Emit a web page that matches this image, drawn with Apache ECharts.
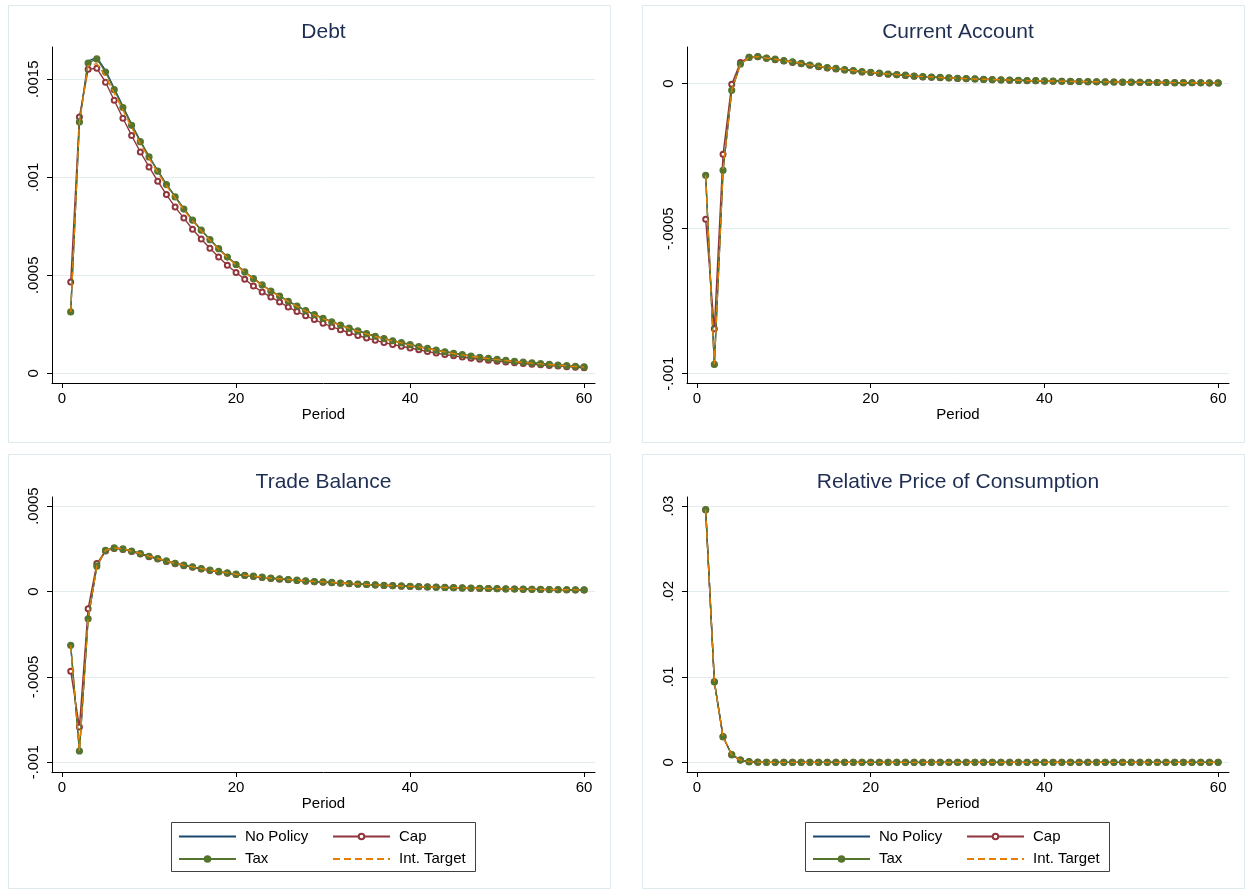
<!DOCTYPE html>
<html>
<head>
<meta charset="utf-8">
<title>Impulse responses</title>
<script src="https://cdn.jsdelivr.net/npm/echarts@6/dist/echarts.min.js"></script>
<style>
  html, body { margin: 0; padding: 0; background: #fff; }
  #chart { width: 1249px; height: 891px; }
</style>
</head>
<body>
<div id="chart"></div>
<script>
// periods 1..60
const period = [1, 2, 3, 4, 5, 6, 7, 8, 9, 10, 11, 12, 13, 14, 15, 16, 17, 18, 19, 20,
  21, 22, 23, 24, 25, 26, 27, 28, 29, 30, 31, 32, 33, 34, 35, 36, 37, 38, 39, 40,
  41, 42, 43, 44, 45, 46, 47, 48, 49, 50, 51, 52, 53, 54, 55, 56, 57, 58, 59, 60]

// Debt
const debtTax = [0.000313, 0.001282, 0.001583, 0.001604, 0.001537, 0.001447, 0.001356, 0.001265, 0.001182, 0.001104,
  0.001031, 0.000963, 0.000900, 0.000838, 0.000781, 0.000730, 0.000682, 0.000636, 0.000593, 0.000555,
  0.000517, 0.000483, 0.000451, 0.000420, 0.000394, 0.000367, 0.000343, 0.000320, 0.000299, 0.000280,
  0.000262, 0.000246, 0.000230, 0.000216, 0.000202, 0.000189, 0.000177, 0.000166, 0.000156, 0.000146,
  0.000136, 0.000127, 0.000118, 0.000110, 0.000102, 0.000095, 0.000088, 0.000082, 0.000076, 0.000071,
  0.000066, 0.000061, 0.000057, 0.000053, 0.000049, 0.000046, 0.000042, 0.000039, 0.000036, 0.000033]
const debtNoPolicy = [0.000313, 0.001285, 0.001593, 0.001612, 0.001546, 0.001454, 0.001362, 0.001270, 0.001186, 0.001107,
  0.001034, 0.000965, 0.000902, 0.000840, 0.000783, 0.000731, 0.000683, 0.000637, 0.000594, 0.000556,
  0.000518, 0.000484, 0.000452, 0.000421, 0.000395, 0.000368, 0.000344, 0.000321, 0.000300, 0.000281,
  0.000263, 0.000247, 0.000231, 0.000217, 0.000203, 0.000190, 0.000178, 0.000167, 0.000157, 0.000147,
  0.000137, 0.000128, 0.000119, 0.000111, 0.000103, 0.000096, 0.000089, 0.000083, 0.000077, 0.000072,
  0.000067, 0.000062, 0.000058, 0.000054, 0.000050, 0.000047, 0.000043, 0.000040, 0.000037, 0.000034]
const debtCap = [0.000466, 0.001308, 0.001551, 0.001556, 0.001485, 0.001393, 0.001301, 0.001213, 0.001129, 0.001053,
  0.000980, 0.000912, 0.000848, 0.000792, 0.000735, 0.000685, 0.000638, 0.000593, 0.000551, 0.000514,
  0.000480, 0.000445, 0.000415, 0.000389, 0.000364, 0.000338, 0.000315, 0.000294, 0.000274, 0.000255,
  0.000238, 0.000222, 0.000207, 0.000193, 0.000180, 0.000168, 0.000157, 0.000147, 0.000138, 0.000129,
  0.000120, 0.000111, 0.000103, 0.000096, 0.000089, 0.000083, 0.000077, 0.000072, 0.000067, 0.000062,
  0.000058, 0.000054, 0.000050, 0.000046, 0.000043, 0.000040, 0.000037, 0.000034, 0.000031, 0.000028]
const debtIntTarget = [0.000313, 0.001280, 0.001570, 0.001580, 0.001516, 0.001430, 0.001342, 0.001254, 0.001172, 0.001096,
  0.001024, 0.000957, 0.000895, 0.000834, 0.000778, 0.000727, 0.000679, 0.000634, 0.000591, 0.000553,
  0.000515, 0.000481, 0.000449, 0.000419, 0.000393, 0.000366, 0.000342, 0.000319, 0.000298, 0.000279,
  0.000261, 0.000245, 0.000229, 0.000215, 0.000201, 0.000188, 0.000176, 0.000165, 0.000155, 0.000145,
  0.000135, 0.000126, 0.000117, 0.000109, 0.000101, 0.000094, 0.000087, 0.000081, 0.000075, 0.000070,
  0.000065, 0.000060, 0.000056, 0.000052, 0.000048, 0.000045, 0.000041, 0.000038, 0.000035, 0.000032]

// Current Account
const caTax = [-0.000316, -0.000968, -0.000299, -0.000023, 0.000067, 0.000090, 0.000093, 0.000088, 0.000084, 0.000079,
  0.000075, 0.000070, 0.000064, 0.000060, 0.000055, 0.000052, 0.000048, 0.000045, 0.000041, 0.000039,
  0.000036, 0.000033, 0.000031, 0.000029, 0.000026, 0.000024, 0.0000225, 0.0000210, 0.0000196, 0.0000183,
  0.0000171, 0.0000159, 0.0000149, 0.0000139, 0.0000130, 0.0000121, 0.0000113, 0.0000105, 0.0000098, 0.0000092,
  0.0000086, 0.0000080, 0.0000075, 0.0000070, 0.0000065, 0.0000061, 0.0000057, 0.0000053, 0.0000049, 0.0000046,
  0.0000043, 0.0000040, 0.0000037, 0.0000035, 0.0000032, 0.0000030, 0.0000028, 0.0000026, 0.0000024, 0.0000023]
const caCap = [-0.000468, -0.000845, -0.000244, -0.000002, 0.000073, 0.000091, 0.000092, 0.000087, 0.000082, 0.000078,
  0.000073, 0.000068, 0.000063, 0.000058, 0.000054, 0.000050, 0.000047, 0.000043, 0.000040, 0.000038,
  0.000035, 0.000032, 0.000030, 0.000028, 0.000025, 0.000023, 0.0000218, 0.0000203, 0.0000189, 0.0000177,
  0.0000165, 0.0000154, 0.0000144, 0.0000134, 0.0000125, 0.0000117, 0.0000109, 0.0000101, 0.0000095, 0.0000089,
  0.0000083, 0.0000077, 0.0000072, 0.0000067, 0.0000063, 0.0000059, 0.0000055, 0.0000051, 0.0000047, 0.0000044,
  0.0000041, 0.0000038, 0.0000036, 0.0000033, 0.0000031, 0.0000029, 0.0000027, 0.0000025, 0.0000023, 0.0000022]
const caNoPolicy = caTax
const caIntTarget = caTax

// Trade Balance
const tbTax = [-0.000315, -0.000934, -0.000160, 0.000148, 0.000241, 0.000255, 0.000249, 0.000237, 0.000222, 0.000206,
  0.000193, 0.000179, 0.000165, 0.000154, 0.000144, 0.000134, 0.000125, 0.000117, 0.000109, 0.000101,
  0.000095, 0.000090, 0.000084, 0.000078, 0.000074, 0.000070, 0.000066, 0.000062, 0.000058, 0.000056,
  0.0000527, 0.0000496, 0.0000466, 0.0000438, 0.0000412, 0.0000387, 0.0000364, 0.0000342, 0.0000322, 0.0000302,
  0.0000284, 0.0000267, 0.0000251, 0.0000236, 0.0000222, 0.0000209, 0.0000196, 0.0000184, 0.0000173, 0.0000163,
  0.0000153, 0.0000144, 0.0000135, 0.0000127, 0.0000120, 0.0000113, 0.0000106, 0.0000099, 0.0000093, 0.0000088]
const tbCap = [-0.000467, -0.000794, -0.000101, 0.000163, 0.000237, 0.000252, 0.000246, 0.000234, 0.000219, 0.000203,
  0.000190, 0.000176, 0.000162, 0.000151, 0.000141, 0.000131, 0.000122, 0.000114, 0.000106, 0.000099,
  0.000093, 0.000087, 0.000082, 0.000076, 0.000072, 0.000068, 0.000064, 0.000060, 0.000057, 0.000054,
  0.0000511, 0.0000481, 0.0000452, 0.0000425, 0.0000400, 0.0000376, 0.0000353, 0.0000332, 0.0000312, 0.0000293,
  0.0000275, 0.0000259, 0.0000243, 0.0000229, 0.0000215, 0.0000202, 0.0000190, 0.0000178, 0.0000168, 0.0000158,
  0.0000148, 0.0000139, 0.0000131, 0.0000123, 0.0000116, 0.0000109, 0.0000103, 0.0000096, 0.0000090, 0.0000085]
const tbNoPolicy = tbTax
const tbIntTarget = tbTax

// Relative Price of Consumption
const rpTax = [0.02957, 0.00942, 0.00300, 0.000895, 0.00027, 0.00008, 0.000025, 0.000008, 0.000002, 0.000001,
  0, 0, 0, 0, 0, 0, 0, 0, 0, 0,
  0, 0, 0, 0, 0, 0, 0, 0, 0, 0,
  0, 0, 0, 0, 0, 0, 0, 0, 0, 0,
  0, 0, 0, 0, 0, 0, 0, 0, 0, 0,
  0, 0, 0, 0, 0, 0, 0, 0, 0, 0]
const rpCap = rpTax
const rpNoPolicy = rpTax
const rpIntTarget = rpTax

// axis ticks
const xTicks = [0, 20, 40, 60]
const debtTicks = [0, 0.0005, 0.001, 0.0015]
const debtTickLabels = ['0', '.0005', '.001', '.0015']
const caTicks = [-0.001, -0.0005, 0]
const caTickLabels = ['-.001', '-.0005', '0']
const tbTicks = [-0.001, -0.0005, 0, 0.0005]
const tbTickLabels = ['-.001', '-.0005', '0', '.0005']
const rpTicks = [0, 0.01, 0.02, 0.03]
const rpTickLabels = ['0', '.01', '.02', '.03']

const seriesNames = ['No Policy', 'Cap', 'Tax', 'Int. Target']

const FONT = '"Liberation Sans", Arial, sans-serif'
const seriesStyles = [
  { color: '#1a476f', symbol: 'none', size: 0, type: 'solid' },
  { color: '#90353b', symbol: 'emptyCircle', size: 5, type: 'solid' },
  { color: '#55752f', symbol: 'circle', size: 6, type: 'solid' },
  { color: '#e37e00', symbol: 'none', size: 0, type: [7, 4] }
]

const panels = [
  { title: 'Debt', box: [8, 5, 602, 437], grid: { left: 52, top: 47, width: 543, height: 336 },
    yMin: -0.0000495, yMax: 0.0016648, ticks: debtTicks, labels: debtTickLabels,
    data: [debtNoPolicy, debtCap, debtTax, debtIntTarget] },
  { title: 'Current Account', box: [642, 5, 602, 437], grid: { left: 687, top: 47, width: 542, height: 336 },
    yMin: -0.001032, yMax: 0.000126, ticks: caTicks, labels: caTickLabels,
    data: [caNoPolicy, caCap, caTax, caIntTarget] },
  { title: 'Trade Balance', box: [8, 454, 602, 434], grid: { left: 52, top: 497, width: 543, height: 275 },
    yMin: -0.001057, yMax: 0.000553, ticks: tbTicks, labels: tbTickLabels,
    data: [tbNoPolicy, tbCap, tbTax, tbIntTarget] },
  { title: 'Relative Price of Consumption', box: [642, 454, 602, 434], grid: { left: 687, top: 497, width: 542, height: 275 },
    yMin: -0.00113, yMax: 0.03105, ticks: rpTicks, labels: rpTickLabels,
    data: [rpNoPolicy, rpCap, rpTax, rpIntTarget] }
]

// legend entry; lines without markers get an invisible symbol
function legendItem (name) {
  const st = seriesStyles[seriesNames.indexOf(name)]
  if (st.symbol !== 'none') return { name: name }
  return { name: name, itemStyle: { color: 'rgba(0,0,0,0)', borderColor: 'rgba(0,0,0,0)', borderWidth: 0 } }
}

function legendColumn (names, left) {
  return {
    data: names.map(legendItem),
    orient: 'vertical',
    left: left,
    top: 829,
    padding: 0,
    itemWidth: 57,
    itemHeight: 7,
    itemGap: 7.5,
    selectedMode: false,
    textStyle: { fontFamily: FONT, fontSize: 15, color: '#000', padding: [0, 0, 0, 4] }
  }
}

const option = {
  animation: false,
  backgroundColor: '#fff',
  title: panels.map(p => ({
    text: p.title,
    left: p.grid.left + p.grid.width / 2,
    textAlign: 'center',
    top: p.grid.top - 25,
    padding: 0,
    textStyle: { fontFamily: FONT, fontSize: 21, fontWeight: 'normal', color: '#1e2d52' }
  })),
  grid: panels.map(p => p.grid),
  xAxis: panels.map((p, i) => ({
    type: 'value',
    gridIndex: i,
    min: -1.15,
    max: 61.25,
    name: 'Period',
    nameLocation: 'middle',
    nameGap: 24,
    nameTextStyle: { fontFamily: FONT, fontSize: 15, color: '#000' },
    axisLine: { show: true, onZero: false, lineStyle: { color: '#000', width: 1 } },
    axisTick: { show: true, length: 5, customValues: xTicks, lineStyle: { color: '#000' } },
    axisLabel: { customValues: xTicks, margin: 8, fontFamily: FONT, fontSize: 15, color: '#000' },
    splitLine: { show: false }
  })),
  yAxis: panels.map((p, i) => ({
    type: 'value',
    gridIndex: i,
    min: p.yMin,
    max: p.yMax,
    axisLine: { show: true, onZero: false, lineStyle: { color: '#000', width: 1 } },
    axisTick: { show: true, length: 5, customValues: p.ticks, lineStyle: { color: '#000' } },
    axisLabel: {
      customValues: p.ticks,
      rotate: 90,
      margin: 11,
      fontFamily: FONT,
      fontSize: 15,
      color: '#000',
      formatter: v => {
        const k = p.ticks.findIndex(t => Math.abs(t - v) < 1e-10)
        return k >= 0 ? p.labels[k] : ''
      }
    },
    splitLine: { show: true, lineStyle: { color: '#e3edf0', width: 1 } }
  })),
  legend: [
    legendColumn(['No Policy', 'Tax'], 178),
    legendColumn(['Cap', 'Int. Target'], 332),
    legendColumn(['No Policy', 'Tax'], 812),
    legendColumn(['Cap', 'Int. Target'], 966)
  ],
  graphic: panels.map(p => ({
    type: 'rect',
    shape: { x: p.box[0] + 0.5, y: p.box[1] + 0.5, width: p.box[2], height: p.box[3] },
    style: { fill: 'none', stroke: '#dde9ec', lineWidth: 1 },
    silent: true,
    z: -10
  })).concat([
    { type: 'rect', shape: { x: 171.5, y: 822.5, width: 304, height: 49 },
      style: { fill: 'none', stroke: '#404040', lineWidth: 1 }, silent: true },
    { type: 'rect', shape: { x: 805.5, y: 822.5, width: 304, height: 49 },
      style: { fill: 'none', stroke: '#404040', lineWidth: 1 }, silent: true }
  ]),
  series: []
}

panels.forEach((p, i) => {
  p.data.forEach((vals, s) => {
    const st = seriesStyles[s]
    option.series.push({
      name: seriesNames[s],
      type: 'line',
      xAxisIndex: i,
      yAxisIndex: i,
      data: period.map((x, k) => [x, vals[k]]),
      symbol: st.symbol,
      symbolSize: st.size,
      showSymbol: st.symbol !== 'none',
      lineStyle: { color: st.color, width: 1.4, type: st.type },
      itemStyle: { color: st.color, borderColor: st.color, borderWidth: 1.2 },
      emphasis: { disabled: true },
      z: 2 + s
    })
  })
})

const myChart = echarts.init(document.getElementById('chart'), null, { renderer: 'canvas' })
myChart.setOption(option)
</script>
</body>
</html>
